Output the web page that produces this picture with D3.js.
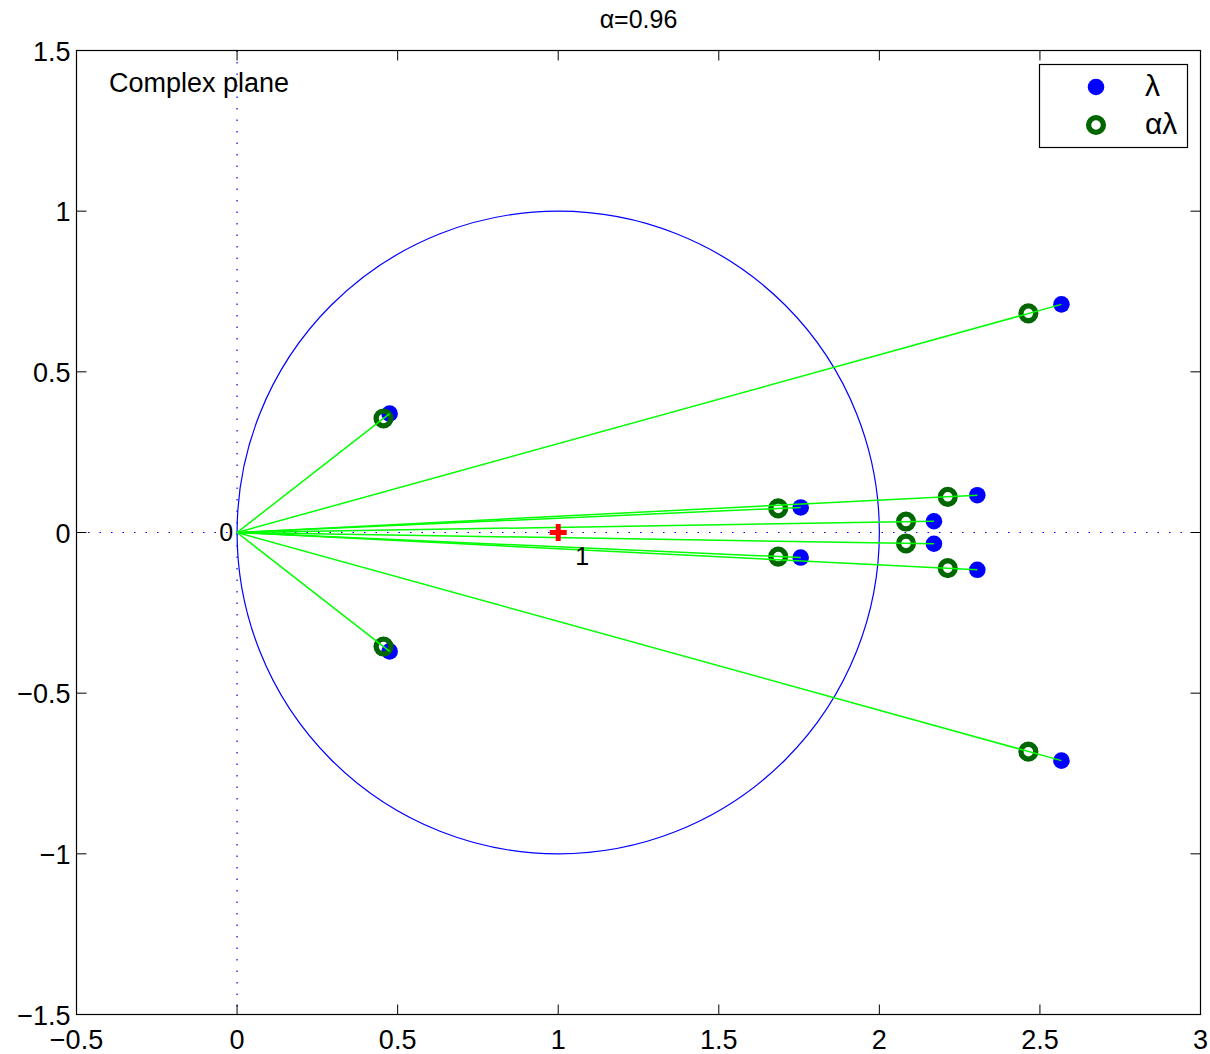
<!DOCTYPE html>
<html>
<head>
<meta charset="utf-8">
<script src="https://cdn.jsdelivr.net/npm/d3@7"></script>
<style>
  body { margin: 0; background: #fff; }
  text { font-family: "Liberation Sans", Arial, sans-serif; fill: #000; }
</style>
</head>
<body>
<div class="chartBox"></div>
<script>
var alphaLabel = 'α=0.96';
var xTicks = [-0.5, 0, 0.5, 1, 1.5, 2, 2.5, 3];
var yTicks = [-1.5, -1, -0.5, 0, 0.5, 1, 1.5];

// eigenvalues lambda
var lamRe = [0.475, 0.475, 1.755, 1.755, 2.170, 2.170, 2.305, 2.305, 2.567, 2.567];
var lamIm = [0.370, -0.370, 0.078, -0.078, 0.035, -0.035, 0.116, -0.116, 0.710, -0.710];
// scaled alpha*lambda
var aLamRe = [0.456, 0.456, 1.685, 1.685, 2.083, 2.083, 2.213, 2.213, 2.464, 2.464];
var aLamIm = [0.355, -0.355, 0.075, -0.075, 0.034, -0.034, 0.111, -0.111, 0.682, -0.682];

var w = 1210, h = 1054;
var pLeft = 76.5, pRight = 1200.5, pTop = 50.5, pBottom = 1014.5;
var fs = 27;

var x = d3.scaleLinear().domain([-0.5, 3]).range([pLeft, pRight]);
var y = d3.scaleLinear().domain([-1.5, 1.5]).range([pBottom, pTop]);

var canvas = d3.select('.chartBox')
  .append('svg')
  .attr('width', w)
  .attr('height', h);

function fmt(d) {
  return d < 0 ? '\u2212' + String(-d) : String(d);
}

// dotted axes through origin
canvas.append('line')
  .attr('x1', x(0)).attr('x2', x(0))
  .attr('y1', pTop).attr('y2', pBottom)
  .attr('stroke', '#0000ff').attr('stroke-width', 1.2)
  .attr('stroke-dasharray', '1.5,10');
canvas.append('line')
  .attr('x1', pLeft).attr('x2', pRight)
  .attr('y1', y(0)).attr('y2', y(0))
  .attr('stroke', '#0000ff').attr('stroke-width', 1.2)
  .attr('stroke-dasharray', '1.5,10');

// unit circle centred on 1
canvas.append('ellipse')
  .attr('cx', x(1)).attr('cy', y(0))
  .attr('rx', x(2) - x(1)).attr('ry', y(0) - y(1))
  .attr('fill', 'none')
  .attr('stroke', '#0000ff')
  .attr('stroke-width', 1.2);

var idx = d3.range(lamRe.length);

// filled lambda markers
canvas.selectAll('circle.lam')
  .data(idx)
  .enter()
  .append('circle')
  .attr('class', 'lam')
  .attr('cx', function(i){ return x(lamRe[i]); })
  .attr('cy', function(i){ return y(lamIm[i]); })
  .attr('r', 8.3)
  .attr('fill', '#0000ff');

// open alpha*lambda markers
canvas.selectAll('circle.alam')
  .data(idx)
  .enter()
  .append('circle')
  .attr('class', 'alam')
  .attr('cx', function(i){ return x(aLamRe[i]); })
  .attr('cy', function(i){ return y(aLamIm[i]); })
  .attr('r', 7.4)
  .attr('fill', 'none')
  .attr('stroke', '#006600')
  .attr('stroke-width', 5.3);

// rays from the origin
canvas.selectAll('line.ray')
  .data(idx)
  .enter()
  .append('line')
  .attr('class', 'ray')
  .attr('x1', x(0)).attr('y1', y(0))
  .attr('x2', function(i){ return x(lamRe[i]); })
  .attr('y2', function(i){ return y(lamIm[i]); })
  .attr('stroke', '#00ff00')
  .attr('stroke-width', 1.5);

// red plus at 1
canvas.append('path')
  .attr('d', 'M' + (x(1) - 8.5) + ',' + y(0) + 'H' + (x(1) + 8.5) +
             'M' + x(1) + ',' + (y(0) - 8.5) + 'V' + (y(0) + 8.5))
  .attr('stroke', '#ff0000')
  .attr('stroke-width', 5)
  .attr('fill', 'none');

canvas.append('text')
  .attr('x', x(0) - 4).attr('y', y(0) + 8)
  .attr('text-anchor', 'end')
  .attr('font-size', fs - 2)
  .text('0');
canvas.append('text')
  .attr('x', x(1) + 17).attr('y', y(0) + 32)
  .attr('font-size', fs - 2)
  .text('1');

// frame and ticks
canvas.append('rect')
  .attr('x', pLeft).attr('y', pTop)
  .attr('width', pRight - pLeft).attr('height', pBottom - pTop)
  .attr('fill', 'none').attr('stroke', '#000').attr('stroke-width', 1.2);

var tl = 10;
xTicks.forEach(function(t){
  canvas.append('line').attr('x1', x(t)).attr('x2', x(t))
    .attr('y1', pBottom).attr('y2', pBottom - tl).attr('stroke', '#000');
  canvas.append('line').attr('x1', x(t)).attr('x2', x(t))
    .attr('y1', pTop).attr('y2', pTop + tl).attr('stroke', '#000');
  canvas.append('text')
    .attr('x', x(t)).attr('y', pBottom + 34)
    .attr('text-anchor', 'middle')
    .attr('font-size', fs)
    .text(fmt(t));
});
yTicks.forEach(function(t){
  canvas.append('line').attr('x1', pLeft).attr('x2', pLeft + tl)
    .attr('y1', y(t)).attr('y2', y(t)).attr('stroke', '#000');
  canvas.append('line').attr('x1', pRight).attr('x2', pRight - tl)
    .attr('y1', y(t)).attr('y2', y(t)).attr('stroke', '#000');
  canvas.append('text')
    .attr('x', pLeft - 6).attr('y', y(t) + 10)
    .attr('text-anchor', 'end')
    .attr('font-size', fs)
    .text(fmt(t));
});

// title
canvas.append('text')
  .attr('x', (pLeft + pRight) / 2).attr('y', 28)
  .attr('text-anchor', 'middle')
  .attr('font-size', fs - 2)
  .text(alphaLabel);

canvas.append('text')
  .attr('x', 109).attr('y', 92)
  .attr('font-size', fs)
  .text('Complex plane');

// legend
var lg = canvas.append('g');
lg.append('rect')
  .attr('x', 1039.5).attr('y', 64.5)
  .attr('width', 148).attr('height', 83)
  .attr('fill', '#fff').attr('stroke', '#000').attr('stroke-width', 1.2);
lg.append('circle').attr('cx', 1096).attr('cy', 87).attr('r', 8.3).attr('fill', '#0000ff');
lg.append('circle').attr('cx', 1096).attr('cy', 125).attr('r', 7.4)
  .attr('fill', 'none').attr('stroke', '#006600').attr('stroke-width', 5.3);
lg.append('text').attr('x', 1145).attr('y', 96)
  .attr('font-family', '"Liberation Serif", "DejaVu Serif", serif')
  .attr('font-size', 30).text('λ');
lg.append('text').attr('x', 1145).attr('y', 134)
  .attr('font-family', '"Liberation Serif", "DejaVu Serif", serif')
  .attr('font-size', 30).text('αλ');
</script>
</body>
</html>
